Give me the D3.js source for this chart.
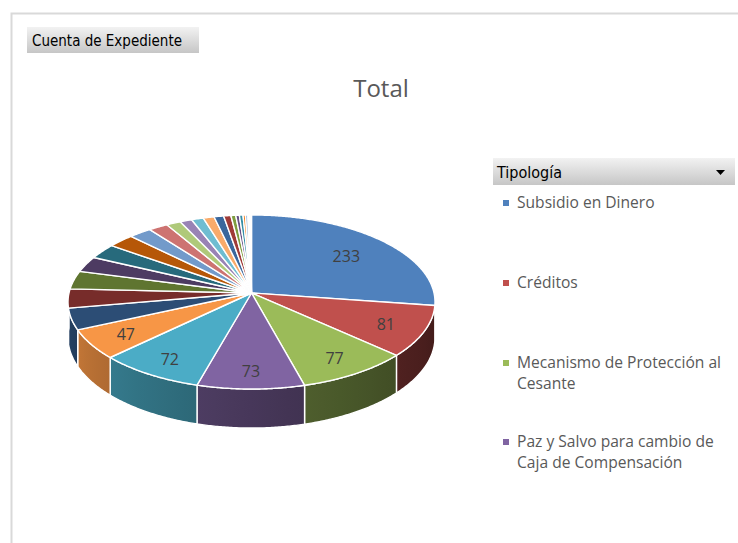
<!DOCTYPE html>
<html>
<head>
<meta charset="utf-8">
<script src="https://cdn.jsdelivr.net/npm/d3@7"></script>
<style>
  html, body { margin: 0; padding: 0; background: #fff; }
  svg { display: block; }
</style>
</head>
<body>
<svg id="chart" width="738" height="543"></svg>
<script>
// Tipologías (in slice order, clockwise from 12 o'clock)
const categories = [
  "Subsidio en Dinero",
  "Créditos",
  "Mecanismo de Protección al Cesante",
  "Paz y Salvo para cambio de Caja de Compensación",
  "Tipología 5", "Tipología 6", "Tipología 7", "Tipología 8", "Tipología 9",
  "Tipología 10", "Tipología 11", "Tipología 12", "Tipología 13", "Tipología 14",
  "Tipología 15", "Tipología 16", "Tipología 17", "Tipología 18", "Tipología 19",
  "Tipología 20", "Tipología 21", "Tipología 22", "Tipología 23", "Tipología 24",
  "Tipología 25", "Tipología 26", "Tipología 27", "Tipología 28"
];
// Cuenta de Expediente
const values = [
  233, 81, 77, 73, 72, 47,
  34, 30, 29, 25, 24, 22,
  19, 16, 12, 10, 10, 9,
  8, 6, 4, 3, 3, 2,
  2, 1, 1, 1
];
const palette = [
  "#4F81BD", "#C0504D", "#9BBB59", "#8064A2", "#4BACC6", "#F79646",
  "#2C4D75", "#772C2A", "#5F7530", "#4D3B62", "#276A7C", "#B65708",
  "#729ACA", "#CD7371", "#AFC97A", "#9983B5", "#6FBDD1", "#F9AB6B",
  "#3A679C", "#9F3B38", "#7E9D40", "#664F83", "#358EA6", "#F47B16",
  "#95B3D7", "#D99694", "#C3D69B", "#B2A1C7"
];
const legendCount = 4;
const labelMin = 40;

const svg = d3.select("#chart");
const defs = svg.append("defs");

// ---- chart frame ----
svg.append("path")
  .attr("d", "M11.5,543 L11.5,13.5 L738,13.5")
  .attr("fill", "none").attr("stroke", "#D9D9D9").attr("stroke-width", 2);

// field button gradient
const btnGrad = defs.append("linearGradient").attr("id", "btnGrad")
  .attr("x1", 0).attr("y1", 0).attr("x2", 0).attr("y2", 1);
btnGrad.append("stop").attr("offset", "0%").attr("stop-color", "#F2F2F2");
btnGrad.append("stop").attr("offset", "100%").attr("stop-color", "#C6C6C6");

// "Cuenta de Expediente" field button
svg.append("rect").attr("x", 27).attr("y", 27).attr("width", 172).attr("height", 26)
  .attr("fill", "url(#btnGrad)");
svg.append("text").attr("x", 32).attr("y", 46)
  .attr("font-family", "'DejaVu Sans Condensed', 'DejaVu Sans', sans-serif")
  .attr("font-size", 15).attr("fill", "#000")
  .text("Cuenta de Expediente");

// title
svg.append("text").attr("x", 381).attr("y", 97).attr("text-anchor", "middle")
  .attr("font-family", "'Open Sans', sans-serif").attr("font-size", 24)
  .attr("fill", "#595959").text("Total");

// ---- 3D pie ----
const cx = 251.5, cy = 293, rx = 182.5, ry = 86.1, persp = 0.1034, depth = 35;

function proj(r, a) {
  const u = r * Math.sin(a), v = -r * Math.cos(a);
  const p = 1 / (1 - persp * v);
  return [cx + rx * u * p, cy + ry * v * p, p];
}
function projBottom(a) {
  const [x, y, p] = proj(1, a);
  return [x, y + depth * p];
}
function arcPoints(a0, a1, fn) {
  const n = Math.max(2, Math.ceil(Math.abs(a1 - a0) / (Math.PI / 360)));
  const pts = [];
  for (let i = 0; i <= n; i++) pts.push(fn(a0 + (a1 - a0) * i / n));
  return pts;
}
function shade(color, a) {
  // side brightness: bright facing left, dark facing right
  const t = Math.max(0, Math.min(1, (a - Math.PI / 2) / Math.PI));
  const f = 0.34 + 0.54 * Math.pow(t, 1.35);
  const c = d3.rgb(color);
  return d3.rgb(c.r * f, c.g * f, c.b * f).formatHex();
}

const pie = d3.pie().sort(null).value(d => d);
const arcs = pie(values);
const line = d3.line();

const pieG = svg.append("g");

// side walls (front half only)
const sideG = pieG.append("g");
arcs.forEach((d, i) => {
  const a0 = Math.max(d.startAngle, Math.PI / 2);
  const a1 = Math.min(d.endAngle, 3 * Math.PI / 2);
  if (a1 <= a0) return;
  const top = arcPoints(a0, a1, a => proj(1, a).slice(0, 2));
  const bot = arcPoints(a1, a0, projBottom);
  const xs = top.map(p => p[0]);
  const gid = "side" + i;
  const g = defs.append("linearGradient").attr("id", gid)
    .attr("gradientUnits", "userSpaceOnUse")
    .attr("x1", d3.min(xs)).attr("y1", 0).attr("x2", d3.max(xs)).attr("y2", 0);
  const steps = 6;
  for (let s = 0; s <= steps; s++) {
    const a = a1 - (a1 - a0) * s / steps; // left (a1) to right (a0)
    const x = proj(1, a)[0];
    const off = (x - d3.min(xs)) / Math.max(1e-6, d3.max(xs) - d3.min(xs));
    g.append("stop").attr("offset", off).attr("stop-color", shade(palette[i], a));
  }
  sideG.append("path")
    .attr("d", line(top.concat(bot)) + "Z")
    .attr("fill", `url(#${gid})`)
    .attr("stroke", "#fff").attr("stroke-width", 1.4).attr("stroke-linejoin", "round");
});

// top faces
const topG = pieG.append("g");
arcs.forEach((d, i) => {
  const pts = [[cx, cy]].concat(arcPoints(d.startAngle, d.endAngle, a => proj(1, a).slice(0, 2)));
  topG.append("path")
    .attr("d", line(pts) + "Z")
    .attr("fill", palette[i])
    .attr("stroke", "#fff").attr("stroke-width", 1.4).attr("stroke-linejoin", "round");
});

// data labels: placed a bit further out on the near side of the disc
arcs.filter(d => d.value >= labelMin).forEach(d => {
  const mid = (d.startAngle + d.endAngle) / 2;
  const r = 0.76 - 0.06 * Math.cos(mid);
  const [x, y] = proj(r, mid);
  pieG.append("text")
    .attr("x", x).attr("y", y + 3)
    .attr("text-anchor", "middle").attr("dominant-baseline", "middle")
    .attr("font-family", "'Open Sans', sans-serif").attr("font-size", 16)
    .attr("fill", "#404040")
    .text(d.value);
});

// ---- legend ----
svg.append("rect").attr("x", 493).attr("y", 158).attr("width", 242).attr("height", 27)
  .attr("fill", "url(#btnGrad)");
svg.append("text").attr("x", 497).attr("y", 178)
  .attr("font-family", "'DejaVu Sans Condensed', 'DejaVu Sans', sans-serif")
  .attr("font-size", 16).attr("fill", "#000").text("Tipología");
svg.append("path").attr("d", "M716,170 L725,170 L720.5,175 Z").attr("fill", "#000");

const legendRows = [
  { i: 0, y: 203, lines: ["Subsidio en Dinero"] },
  { i: 1, y: 283, lines: ["Créditos"] },
  { i: 2, y: 363, lines: ["Mecanismo de Protección al", "Cesante"] },
  { i: 3, y: 442, lines: ["Paz y Salvo para cambio de", "Caja de Compensación"] }
];
const legG = svg.append("g");
legendRows.slice(0, legendCount).forEach(r => {
  legG.append("rect").attr("x", 503).attr("y", r.y - 3).attr("width", 6).attr("height", 6)
    .attr("fill", palette[r.i]);
  const t = legG.append("text")
    .attr("font-family", "'Open Sans', sans-serif").attr("font-size", 15.6)
    .attr("fill", "#595959");
  r.lines.forEach((ln, k) => {
    t.append("tspan").attr("x", 517).attr("y", r.y + 5 + k * 21).text(ln);
  });
});
</script>
</body>
</html>
